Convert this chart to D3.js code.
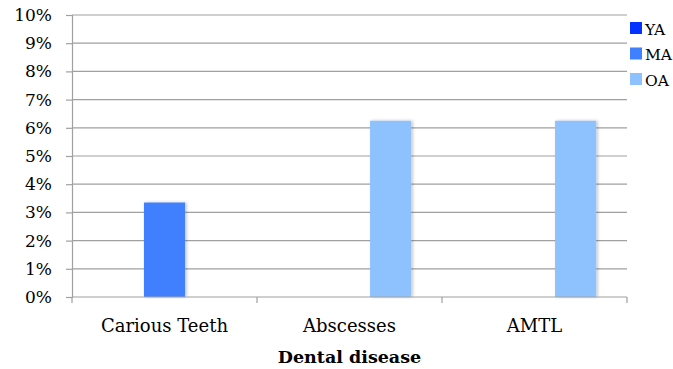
<!DOCTYPE html>
<html>
<head>
<meta charset="utf-8">
<script src="https://cdn.jsdelivr.net/npm/d3@7"></script>
<style>
  body { margin: 0; background: #fff; }
  text { font-family: "DejaVu Serif", serif; fill: #000; }
</style>
</head>
<body>
<div id="chart"></div>
<script>
var categories = ["Carious Teeth", "Abscesses", "AMTL"];
var series = ["YA", "MA", "OA"];
var colors = ["#0433ff", "#3f80ff", "#8ec2ff"];
// percentages per series, one per category
var valuesYA = [0, 0, 0];
var valuesMA = [3.35, 0, 0];
var valuesOA = [0, 6.25, 6.25];
var yTicks = [0, 1, 2, 3, 4, 5, 6, 7, 8, 9, 10];

var allValues = [valuesYA, valuesMA, valuesOA];
var data = [];
categories.forEach(function(c, i) {
  series.forEach(function(s, j) {
    data.push({cat: c, series: s, value: allValues[j][i]});
  });
});

var padding = {top: 15, right: 46, bottom: 72, left: 72};
var totalW = 673, totalH = 369;
var width = totalW - padding.left - padding.right;
var height = totalH - padding.top - padding.bottom;

var svg = d3.select("#chart").append("svg")
    .attr("width", totalW)
    .attr("height", totalH);

var canvas = svg.append("g")
    .attr("transform", "translate(" + padding.left + ", " + padding.top + ")");

var x = d3.scaleBand()
  .domain(categories)
  .range([0, width]);

var xInner = d3.scaleBand()
  .domain(series)
  .range([0, x.bandwidth()])
  .paddingOuter(0.75);

var y = d3.scaleLinear()
  .domain([0, 10])
  .range([height, 0]);

// gridlines
canvas.selectAll(".grid")
  .data(yTicks.slice(1))
  .enter().append("line")
    .attr("x1", 0)
    .attr("x2", width)
    .attr("y1", function(d) { return y(d); })
    .attr("y2", function(d) { return y(d); })
    .attr("stroke", "#a0a0a0")
    .attr("stroke-width", 1.2);

// bars
var defs = svg.append("defs");
var f = defs.append("filter").attr("id", "shadow")
  .attr("x", "-20%").attr("y", "-10%").attr("width", "150%").attr("height", "130%");
f.append("feDropShadow").attr("dx", 1.5).attr("dy", 0).attr("stdDeviation", 1.5)
  .attr("flood-color", "#000").attr("flood-opacity", 0.25);

canvas.selectAll(".bar")
  .data(data.filter(function(d) { return d.value > 0; }))
  .enter().append("rect")
    .attr("class", "bar")
    .attr("x", function(d) { return x(d.cat) + xInner(d.series); })
    .attr("width", xInner.bandwidth())
    .attr("y", function(d) { return y(d.value); })
    .attr("height", function(d) { return height - y(d.value); })
    .attr("fill", function(d) { return colors[series.indexOf(d.series)]; })
    .attr("filter", "url(#shadow)");

// y axis
var yAxis = d3.axisLeft(y)
  .tickValues(yTicks)
  .tickSize(6)
  .tickPadding(14)
  .tickFormat(function(d) { return d + "%"; });

var gy = canvas.append("g").call(yAxis);
gy.selectAll("path, line").attr("stroke", "#a0a0a0").attr("stroke-width", 1.2);
gy.selectAll("text").attr("font-size", 17).attr("font-family", "DejaVu Serif");

// x axis
var gx = canvas.append("g")
  .attr("transform", "translate(0, " + height + ")");
gx.append("line")
  .attr("x1", 0).attr("x2", width)
  .attr("stroke", "#a0a0a0").attr("stroke-width", 1.2);
var bounds = categories.map(function(c) { return x(c); }).concat([width]);
gx.selectAll(".xtick")
  .data(bounds)
  .enter().append("line")
    .attr("x1", function(d) { return d; })
    .attr("x2", function(d) { return d; })
    .attr("y1", 0).attr("y2", 6)
    .attr("stroke", "#a0a0a0").attr("stroke-width", 1.2);
gx.selectAll(".xlabel")
  .data(categories)
  .enter().append("text")
    .attr("x", function(d) { return x(d) + x.bandwidth() / 2; })
    .attr("y", 35)
    .attr("text-anchor", "middle")
    .attr("font-size", 18)
    .text(function(d) { return d; });

canvas.append("text")
  .attr("x", width / 2)
  .attr("y", height + 66)
  .attr("text-anchor", "middle")
  .attr("font-size", 17.5)
  .attr("font-weight", "bold")
  .text("Dental disease");

// legend
var legend = svg.append("g")
  .attr("transform", "translate(630, 22)");
var item = legend.selectAll(".item")
  .data(series)
  .enter().append("g")
    .attr("transform", function(d, i) { return "translate(0, " + (i * 25.5) + ")"; });
item.append("rect")
  .attr("width", 12).attr("height", 12)
  .attr("fill", function(d, i) { return colors[i]; });
item.append("text")
  .attr("x", 15).attr("y", 12.5)
  .attr("font-size", 15.5)
  .text(function(d) { return d; });
</script>
</body>
</html>
